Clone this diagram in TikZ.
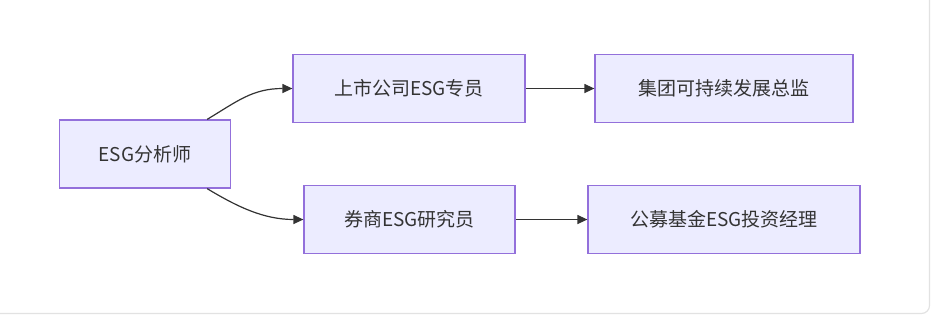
\documentclass[tikz,border=0pt]{standalone}
\usepackage{fontspec}
\setmainfont{Noto Sans CJK SC}
\usetikzlibrary{arrows.meta}
\definecolor{boxfill}{HTML}{ECECFF}
\definecolor{boxline}{HTML}{9370DB}
\definecolor{ink}{HTML}{333333}
\definecolor{frameline}{HTML}{E2E2E2}
\begin{document}
\begin{tikzpicture}[x=1pt,y=-1pt,
  every node/.style={font=\fontsize{19}{22}\selectfont,text=ink},
  role/.style={draw=boxline,line width=1.2pt,fill=boxfill,minimum height=68pt,inner sep=0pt},
  link/.style={draw=ink,line width=1.2pt,-{Triangle[length=10pt,width=9pt]}}]
\useasboundingbox (0,0) rectangle (936,317);
% outer frame, only right and bottom edges show
\begin{scope}
\clip (0,0) rectangle (936,317);
\draw[frameline,line width=1.2pt,rounded corners=8pt] (-20,-20) rectangle (929.5,313.5);
\end{scope}
% start role
\node[role,minimum width=171pt] (esg) at (145,154) {ESG分析师};
% upper path
\node[role,minimum width=232pt] (listed) at (409,88.5) {上市公司ESG专员};
\node[role,minimum width=258pt] (group) at (724,88.5) {集团可持续发展总监};
% lower path
\node[role,minimum width=211pt] (broker) at (409.5,219.5) {券商ESG研究员};
\node[role,minimum width=272pt] (fund) at (724,219.5) {公募基金ESG投资经理};
% links
\draw[link] ([xshift=-24pt]esg.north east) .. controls +(30,-18) and +(-40,0) .. (listed.west);
\draw[link] ([xshift=-24pt]esg.south east) .. controls +(30,18) and +(-40,0) .. (broker.west);
\draw[link] (listed.east) -- (group.west);
\draw[link] (broker.east) -- (fund.west);
\end{tikzpicture}
\end{document}
